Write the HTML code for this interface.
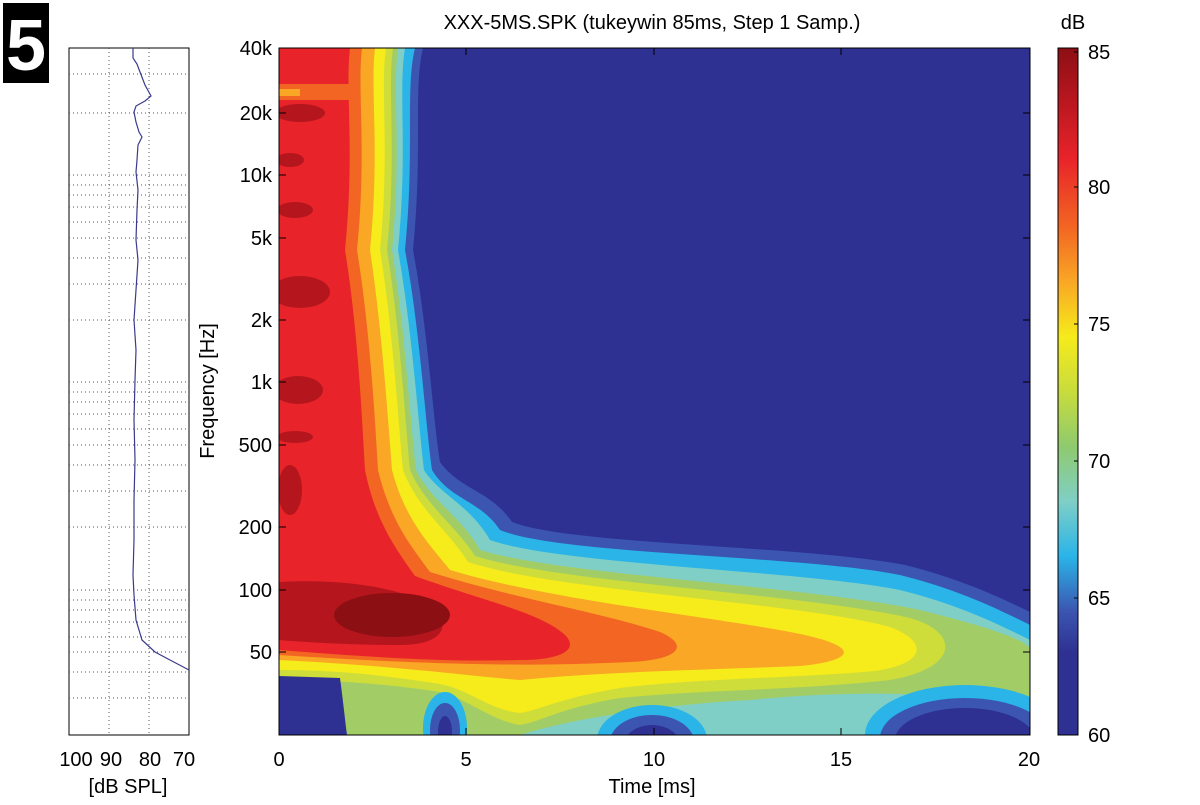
<!DOCTYPE html>
<html><head><meta charset="utf-8"><style>
body{margin:0;background:#fff;width:1200px;height:800px;overflow:hidden;font-family:"Liberation Sans",sans-serif}
</style></head><body>
<svg width="1200" height="800" viewBox="0 0 1200 800" xmlns="http://www.w3.org/2000/svg" font-family="Liberation Sans, sans-serif">
<defs>
<clipPath id="pc"><rect x="279" y="48" width="751" height="687"/></clipPath>
<linearGradient id="cb" x1="0" y1="1" x2="0" y2="0">
<stop offset="0" stop-color="#2e3192"/><stop offset="0.12" stop-color="#2e3192"/>
<stop offset="0.18" stop-color="#3b55b0"/><stop offset="0.26" stop-color="#2ab4e8"/>
<stop offset="0.34" stop-color="#7fcfc6"/><stop offset="0.42" stop-color="#8fca6e"/>
<stop offset="0.50" stop-color="#c8dc3c"/><stop offset="0.58" stop-color="#f6eb1b"/>
<stop offset="0.66" stop-color="#f9a725"/><stop offset="0.74" stop-color="#f26522"/>
<stop offset="0.84" stop-color="#e8232a"/><stop offset="0.93" stop-color="#b5161e"/>
<stop offset="1" stop-color="#8c0f14"/>
</linearGradient>
</defs>
<rect x="3" y="3" width="46" height="80" fill="#000"/>
<text x="26" y="70" font-size="72" font-weight="bold" fill="#fff" text-anchor="middle">5</text>

<text x="652" y="29" font-size="20" text-anchor="middle">XXX-5MS.SPK (tukeywin 85ms, Step 1 Samp.)</text>
<text x="1073" y="29" font-size="20" text-anchor="middle">dB</text>

<g clip-path="url(#pc)">
<rect x="279" y="48" width="751" height="687" fill="#2e3192"/>
<path fill="#3b55b0" d="M279,48 H423 C413,90 423,150 413,250 C428,330 433,420 440,462 C460,490 490,490 512,522 C570,545 800,545 905,565 C965,580 1005,600 1030,612 V735 H279 Z"/>
<path fill="#2ab4e8" d="M279,48 H415 C405,90 415,150 405,250 C420,330 425,420 432,470 C450,500 480,500 500,530 C560,555 800,555 900,575 C960,590 1000,610 1030,625 V735 H279 Z"/>
<path fill="#7fcfc6" d="M279,48 H405 C398,90 408,150 398,250 C412,330 418,420 424,470 C440,495 470,505 490,540 C560,565 800,570 900,590 C960,605 1000,625 1030,640 V735 H279 Z"/>
<path fill="#a2cd66" d="M279,48 H398 C392,90 402,150 392,250 C405,330 410,420 416,470 C430,500 460,515 480,550 C560,575 800,585 920,610 C980,625 1030,640 1030,650 V705 C950,692 850,690 750,700 C650,705 560,722 520,735 H279 Z"/>
<path fill="#cfdd3a" d="M279,48 H393 C387,90 397,150 387,250 C400,330 405,420 410,470 C425,505 455,525 475,556 C560,583 800,593 910,618 C960,632 960,668 890,680 C800,690 700,690 620,698 C560,708 540,722 520,725 C490,720 470,700 440,692 C400,686 350,680 279,680 Z"/>
<path fill="#f6eb1b" d="M279,48 H386 C380,90 390,150 380,250 C393,330 398,420 403,470 C418,510 448,530 468,562 C560,592 800,602 890,627 C930,642 925,664 875,671 C800,678 700,678 620,688 C560,698 540,710 520,713 C490,710 470,690 440,684 C400,678 350,670 279,670 Z"/>
<path fill="#f9a725" d="M279,48 H375 C370,90 380,150 370,250 C382,330 388,420 392,470 C405,520 430,545 450,570 C550,600 700,615 790,632 C860,645 860,660 800,666 C700,670 600,672 520,680 C470,676 400,666 279,660 Z"/>
<path fill="#f26522" d="M279,48 H362 C357,90 367,150 357,250 C370,330 375,420 378,470 C390,520 410,545 430,572 C520,600 600,612 660,632 C690,645 680,660 630,662 C560,665 480,668 279,655 Z"/>
<path fill="#e8232a" d="M279,48 H350 C345,90 355,150 345,250 C358,330 362,420 365,470 C375,520 395,548 415,576 C480,600 540,612 565,635 C580,650 560,660 520,660 C450,662 380,658 279,650 Z"/>
<path fill="#f26522" d="M279,84 H352 V100 H279 Z"/>
<path fill="#f9a725" d="M279,89 H300 V96 H279 Z"/>
<g fill="#b5161e">
<path d="M279,582 C350,578 420,590 440,615 C450,635 430,645 400,645 C350,645 300,642 279,640 Z"/>
<ellipse cx="300" cy="113" rx="25" ry="9"/><ellipse cx="290" cy="160" rx="14" ry="7"/>
<ellipse cx="295" cy="210" rx="18" ry="8"/><ellipse cx="300" cy="292" rx="30" ry="16"/>
<ellipse cx="298" cy="390" rx="25" ry="14"/><ellipse cx="295" cy="437" rx="18" ry="6"/>
<ellipse cx="290" cy="490" rx="12" ry="25"/>
</g>
<ellipse cx="392" cy="615" rx="58" ry="22" fill="#8c0f14"/>
<path fill="#2e3192" d="M279,676 L340,678 C343,700 345,720 347,735 H279 Z"/>
<ellipse cx="445" cy="728" rx="22" ry="36" fill="#2ab4e8"/><ellipse cx="445" cy="730" rx="15" ry="27" fill="#3b55b0"/><ellipse cx="445" cy="732" rx="7" ry="16" fill="#2e3192"/>
<ellipse cx="652" cy="740" rx="55" ry="35" fill="#2ab4e8"/><ellipse cx="652" cy="742" rx="42" ry="27" fill="#3b55b0"/><ellipse cx="652" cy="745" rx="28" ry="20" fill="#2e3192"/>
<ellipse cx="965" cy="735" rx="100" ry="50" fill="#2ab4e8"/><ellipse cx="965" cy="738" rx="85" ry="40" fill="#3b55b0"/><ellipse cx="965" cy="740" rx="70" ry="32" fill="#2e3192"/>
</g>
<rect x="279" y="48" width="751" height="687" fill="none" stroke="#000" stroke-width="1"/>
<g stroke="#000" stroke-width="1">
<path d="M279,113h7M279,175h7M279,238h7M279,320h7M279,382h7M279,445h7M279,527h7M279,590h7M279,652h7"/>
<path d="M1030,113h-7M1030,175h-7M1030,238h-7M1030,320h-7M1030,382h-7M1030,445h-7M1030,527h-7M1030,590h-7M1030,652h-7"/>
<path d="M466,735v-7M654,735v-7M841,735v-7M466,48v7M654,48v7M841,48v7"/>
</g>
<g font-size="20" text-anchor="end">
<text x="272" y="55">40k</text><text x="272" y="120">20k</text><text x="272" y="182">10k</text>
<text x="272" y="245">5k</text><text x="272" y="327">2k</text><text x="272" y="389">1k</text>
<text x="272" y="452">500</text><text x="272" y="534">200</text><text x="272" y="597">100</text><text x="272" y="659">50</text>
</g>
<g font-size="20" text-anchor="middle">
<text x="279" y="766">0</text><text x="466" y="766">5</text><text x="654" y="766">10</text><text x="841" y="766">15</text><text x="1029" y="766">20</text>
<text x="652" y="793">Time [ms]</text>
<text transform="translate(214,391) rotate(-90)">Frequency [Hz]</text>
</g>

<rect x="1058" y="48" width="20" height="687" fill="url(#cb)" stroke="#000" stroke-width="1"/>
<g stroke="#000"><path d="M1078,52h-4M1078,187h-4M1078,324h-4M1078,461h-4M1078,598h-4"/></g>
<g font-size="20">
<text x="1088" y="59">85</text><text x="1088" y="194">80</text><text x="1088" y="331">75</text>
<text x="1088" y="468">70</text><text x="1088" y="605">65</text><text x="1088" y="742">60</text>
</g>

<rect x="69" y="48" width="120" height="687" fill="#fff" stroke="#000" stroke-width="1"/>
<g stroke="#555" stroke-width="1" stroke-dasharray="1,3">
<path d="M109,48V735M149,48V735"/>
<path d="M69,74H189M69,113H189M69,175H189M69,185H189M69,195H189M69,207H189M69,222H189M69,238H189M69,258H189M69,284H189M69,320H189M69,382H189M69,392H189M69,402H189M69,414H189M69,429H189M69,445H189M69,465H189M69,491H189M69,527H189M69,590H189M69,600H189M69,610H189M69,622H189M69,637H189M69,652H189M69,672H189M69,698H189"/>
</g>
<polyline fill="none" stroke="#3a3a8c" stroke-width="1.2" points="133,48 133,58 137,64 140,72 145,85 151,96 145,101 136,106 134,112 136,122 139,132 142,137 138,145 137,160 136,172 138,190 137,210 136,240 138,260 136,290 134,320 136,350 135,380 134,420 135,460 134,500 134,540 133,575 134,595 136,620 142,640 155,652 170,660 189,670"/>
<g font-size="20" text-anchor="middle">
<text x="76" y="766">100</text><text x="111" y="766">90</text><text x="150" y="766">80</text><text x="184" y="766">70</text>
<text x="128" y="793">[dB SPL]</text>
</g>
</svg>
</body></html>
